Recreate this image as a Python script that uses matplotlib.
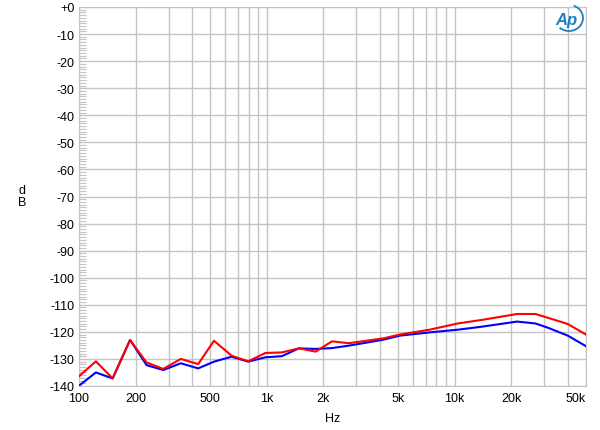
import matplotlib
matplotlib.use("Agg")
from matplotlib import pyplot as plt
from matplotlib.patches import Arc
from matplotlib.ticker import FixedLocator, NullFormatter, MultipleLocator

plt.rcParams['font.family'] = ['Liberation Sans', 'DejaVu Sans']

freq = [100, 123, 151, 187, 229, 281, 348, 431, 523, 649, 795, 982, 1200,
        1480, 1820, 2220, 2730, 4170, 5100, 7350, 10400, 13900, 21500,
        26900, 31700, 40000, 50000]
red = [-136.4, -130.9, -137.2, -123.0, -131.3, -133.7, -130.0, -131.9,
       -123.3, -128.8, -130.9, -127.8, -127.6, -126.1, -127.3, -123.5,
       -124.2, -122.4, -121.0, -119.2, -116.9, -115.6, -113.4, -113.4,
       -114.9, -117.1, -121.0]
blue = [-139.9, -135.0, -137.2, -123.0, -132.3, -134.1, -131.6, -133.5,
        -131.0, -129.2, -131.0, -129.4, -129.0, -126.1, -126.3, -126.0,
        -125.1, -122.9, -121.4, -120.2, -119.2, -118.1, -116.2, -116.9,
        -118.6, -121.4, -125.3]

xticks = [100, 200, 500, 1000, 2000, 5000, 10000, 20000, 50000]
xlabels = ['100', '200', '500', '1k', '2k', '5k', '10k', '20k', '50k']
minor_x = [300, 400, 600, 700, 800, 900, 3000, 4000, 6000, 7000, 8000,
           9000, 30000, 40000]
yticks = list(range(-140, 1, 10))
ylabels = ['+0' if v == 0 else str(v) for v in yticks]

fig = plt.figure(figsize=(6, 4.31), dpi=100)
ax = fig.add_axes([79 / 600, 1 - 387 / 431, 507 / 600, 379 / 431])

ax.plot(freq, blue, color='#0000ff', lw=1.5, zorder=3)
ax.plot(freq, red, color='#ff0000', lw=1.5, zorder=4)

ax.set_xscale('log')
ax.set_xlim(100, 50000)
ax.set_ylim(-140, 0)

ax.xaxis.set_major_locator(FixedLocator(xticks))
ax.set_xticklabels(xlabels)
ax.xaxis.set_minor_locator(FixedLocator(minor_x))
ax.xaxis.set_minor_formatter(NullFormatter())
ax.set_yticks(yticks)
ax.set_yticklabels(ylabels)
ax.yaxis.set_minor_locator(MultipleLocator(1))

labs = ax.get_xticklabels()
labs[-1].set_horizontalalignment('right')

ax.xaxis.grid(True, which='both', color='#c4c4c4', lw=1)
ax.yaxis.grid(True, which='major', color='#c4c4c4', lw=1)
ax.tick_params(axis='both', which='both', labelsize=9, colors='#c4c4c4',
               labelcolor='black')
ax.tick_params(axis='x', which='both', length=0, pad=4)
ax.tick_params(axis='y', which='major', length=0, pad=3)
ax.tick_params(axis='y', which='minor', direction='in', length=5, width=0.8)
for s in ax.spines.values():
    s.set_color('#c4c4c4')

ax.set_xlabel('Hz', fontsize=9, labelpad=6)
fig.text(22 / 600, 1 - 197 / 431, 'd\nB', fontsize=9, ha='center',
         va='center', linespacing=1.1)

# AP logo
fig.text(566 / 600, 1 - 21 / 431, 'Ap', fontsize=12, style='italic',
         color='#1f7fc4', ha='center', va='center', weight='bold')
fig.patches.append(Arc((569 / 600, 1 - 19 / 431), 28 / 600, 26 / 431,
                       theta1=-125, theta2=75, transform=fig.transFigure,
                       color='#1f7fc4', lw=1.3))

fig.savefig('out.png', dpi=100)
